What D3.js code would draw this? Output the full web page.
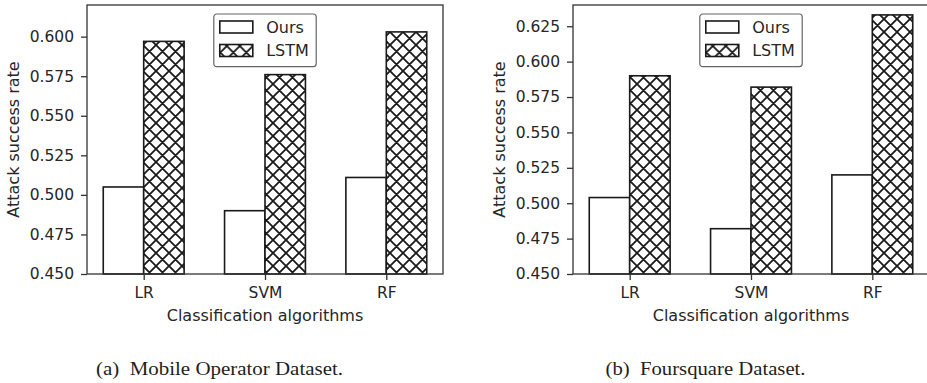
<!DOCTYPE html>
<html>
<head>
<meta charset="utf-8">
<script src="https://cdn.jsdelivr.net/npm/d3@7"></script>
<style>
  body { margin: 0; background: #fff; }
  svg { display: block; }
  .axis text { font-family: 'DejaVu Sans', sans-serif; font-size: 15.5px; fill: #262626; }
  .axis line { stroke: #333; stroke-width: 1.3px; }
  .axis path { display: none; }
  .label { font-family: 'DejaVu Sans', sans-serif; font-size: 16px; fill: #262626; }
  .caption { font-family: 'Liberation Serif', serif; font-size: 19px; fill: #1e1e1e; white-space: pre; }
</style>
</head>
<body>
<div id="chart"></div>
<script>
// ------------------------------------------
//  Data
// ------------------------------------------
const categories = ['LR', 'SVM', 'RF']
const seriesNames = ['Ours', 'LSTM']

const mobileOurs = [0.505, 0.490, 0.511]
const mobileLstm = [0.597, 0.576, 0.603]
const mobileTicks = [0.450, 0.475, 0.500, 0.525, 0.550, 0.575, 0.600]

const foursquareOurs = [0.504, 0.482, 0.520]
const foursquareLstm = [0.590, 0.582, 0.633]
const foursquareTicks = [0.450, 0.475, 0.500, 0.525, 0.550, 0.575, 0.600, 0.625]

const captions = ['(a)  Mobile Operator Dataset.', '(b)  Foursquare Dataset.']

// ------------------------------------------
//  Global Stuff
// ------------------------------------------
const W = 927, H = 383
const barWidth = 1 / 3
const hatch = 13

const svg = d3.select('#chart').append('svg')
  .attr('width', W)
  .attr('height', H)

svg.append('rect').attr('width', W).attr('height', H).attr('fill', '#fff')

const pattern = svg.append('defs').append('pattern')
  .attr('id', 'crosshatch')
  .attr('patternUnits', 'userSpaceOnUse')
  .attr('width', hatch)
  .attr('height', hatch)
  .attr('y', H % hatch)

pattern.append('rect').attr('width', hatch).attr('height', hatch).attr('fill', '#fff')
pattern.append('path')
  .attr('d', `M-1,1 l2,-2 M0,${hatch} l${hatch},-${hatch} M${hatch - 1},${hatch + 1} l2,-2
              M-1,${hatch - 1} l2,2 M0,0 l${hatch},${hatch} M${hatch - 1},-1 l2,2`)
  .attr('stroke', '#1a1a1a')
  .attr('stroke-width', 1.8)
  .attr('fill', 'none')

// ------------------------------------------
//  One panel
// ------------------------------------------
function drawPanel(p) {
  const g = svg.append('g')

  const x = d3.scaleLinear()
    .domain([-barWidth - 0.134, 2 + barWidth + 0.134])
    .range([p.left, p.right])

  const y = d3.scaleLinear()
    .domain([0.45, p.yMax])
    .range([p.bottom, p.top])

  // bars
  const rows = categories.map((c, i) => ({ i, ours: p.ours[i], lstm: p.lstm[i] }))

  g.selectAll('.ours').data(rows).enter().append('rect')
    .attr('class', 'ours')
    .attr('x', d => x(d.i - barWidth))
    .attr('width', x(barWidth) - x(0))
    .attr('y', d => y(d.ours))
    .attr('height', d => y(0.45) - y(d.ours))
    .attr('fill', '#fff')
    .attr('stroke', '#1a1a1a')
    .attr('stroke-width', 1.6)

  g.selectAll('.lstm').data(rows).enter().append('rect')
    .attr('class', 'lstm')
    .attr('x', d => x(d.i))
    .attr('width', x(barWidth) - x(0))
    .attr('y', d => y(d.lstm))
    .attr('height', d => y(0.45) - y(d.lstm))
    .attr('fill', 'url(#crosshatch)')
    .attr('stroke', '#1a1a1a')
    .attr('stroke-width', 1.6)

  // frame
  g.append('rect')
    .attr('x', p.left)
    .attr('y', p.top)
    .attr('width', p.right - p.left)
    .attr('height', p.bottom - p.top)
    .attr('fill', 'none')
    .attr('stroke', '#333')
    .attr('stroke-width', 1.3)

  // axes
  g.append('g').attr('class', 'axis')
    .attr('transform', `translate(${p.left},0)`)
    .call(d3.axisLeft(y).tickValues(p.ticks).tickFormat(d3.format('.3f')).tickSize(6).tickPadding(7))

  g.append('g').attr('class', 'axis')
    .attr('transform', `translate(0,${p.bottom})`)
    .call(d3.axisBottom(x).tickValues([0, 1, 2]).tickFormat(i => categories[i]).tickSize(6).tickPadding(7))

  g.append('text').attr('class', 'label')
    .attr('x', (p.left + p.right) / 2)
    .attr('y', 321)
    .attr('text-anchor', 'middle')
    .text('Classification algorithms')

  g.append('text').attr('class', 'label')
    .attr('transform', `translate(${p.labelX},${(p.top + p.bottom) / 2}) rotate(-90)`)
    .attr('text-anchor', 'middle')
    .attr('dy', '0.36em')
    .text('Attack success rate')

  // legend
  const lg = g.append('g')
    .attr('transform', `translate(${(p.left + p.right) / 2 - 51.2},14)`)

  lg.append('rect')
    .attr('width', 102.4)
    .attr('height', 52.7)
    .attr('rx', 3)
    .attr('fill', '#fff')
    .attr('stroke', '#666')
    .attr('stroke-width', 1.2)

  seriesNames.forEach((s, k) => {
    lg.append('rect')
      .attr('x', 6)
      .attr('y', 7 + k * 23.5)
      .attr('width', 33)
      .attr('height', 12)
      .attr('fill', k === 0 ? '#fff' : 'url(#crosshatch)')
      .attr('stroke', '#1a1a1a')
      .attr('stroke-width', 1.6)
    lg.append('text').attr('class', 'label')
      .attr('x', 52.4)
      .attr('y', 13 + k * 23.5)
      .attr('dy', '0.36em')
      .text(s)
  })

  // caption
  g.append('text').attr('class', 'caption')
    .attr('x', p.captionX - p.captionWidth / 2)
    .attr('y', 375)
    .attr('textLength', p.captionWidth)
    .attr('lengthAdjust', 'spacingAndGlyphs')
    .text(p.caption)
}

drawPanel({
  left: 87, right: 443, top: 5, bottom: 274,
  yMax: 0.62, ticks: mobileTicks,
  ours: mobileOurs, lstm: mobileLstm,
  labelX: 13, caption: captions[0], captionX: 219.5, captionWidth: 247
})

drawPanel({
  left: 573, right: 929, top: 5, bottom: 274,
  yMax: 0.64, ticks: foursquareTicks,
  ours: foursquareOurs, lstm: foursquareLstm,
  labelX: 499, caption: captions[1], captionX: 705.5, captionWidth: 200
})
</script>
</body>
</html>
